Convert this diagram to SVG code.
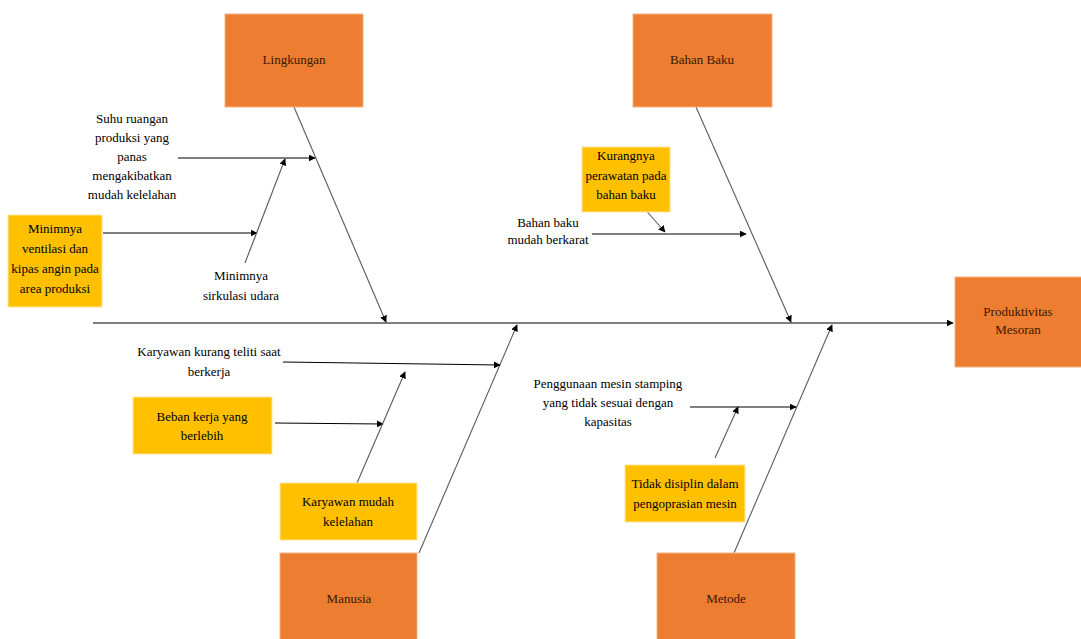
<svg xmlns="http://www.w3.org/2000/svg" width="1081" height="639" viewBox="0 0 1081 639">
<style>
.cat{fill:#ED7D31;stroke:#F4B183;stroke-width:1}
.cause{fill:#FFC000;stroke:#FFE699;stroke-width:1}
text{font-family:"Liberation Serif","DejaVu Serif",serif;font-size:13px;fill:#000;text-anchor:middle}
.cat-t{fill:#3a1a00}
.ln{stroke:#000;stroke-width:1.2;fill:none}
.bone{stroke:#555a66;stroke-width:1.1;fill:none}
</style>
<defs>
<marker id="ah" viewBox="0 0 10 10" refX="9" refY="5" markerWidth="7" markerHeight="7" markerUnits="userSpaceOnUse" orient="auto">
<path d="M0,0 L10,5 L0,10 z" fill="#000"/>
</marker>
</defs>
<rect width="1081" height="639" fill="#fff"/>

<g id="connectors">
<line class="ln" x1="93" y1="323" x2="953" y2="323" stroke-width="1.8" marker-end="url(#ah)"/>
<line class="bone" x1="294" y1="107" x2="386" y2="322" marker-end="url(#ah)"/>
<line class="bone" x1="696" y1="107" x2="791" y2="322" marker-end="url(#ah)"/>
<line class="bone" x1="419" y1="553" x2="517" y2="325" marker-end="url(#ah)"/>
<line class="bone" x1="734" y1="553" x2="832" y2="325" marker-end="url(#ah)"/>
<line class="ln" x1="178" y1="158" x2="315" y2="158" marker-end="url(#ah)"/>
<line class="ln" x1="103" y1="233" x2="257" y2="233" marker-end="url(#ah)"/>
<line class="bone" x1="245" y1="263" x2="285" y2="159" marker-end="url(#ah)"/>
<line class="bone" x1="643" y1="207" x2="665" y2="232" marker-end="url(#ah)"/>
<line class="ln" x1="592" y1="234" x2="746" y2="234" marker-end="url(#ah)"/>
<line class="ln" x1="283" y1="362" x2="500" y2="365" marker-end="url(#ah)"/>
<line class="ln" x1="275" y1="423" x2="383" y2="424" marker-end="url(#ah)"/>
<line class="bone" x1="357" y1="483" x2="405" y2="372" marker-end="url(#ah)"/>
<line class="ln" x1="690" y1="407" x2="796" y2="407" marker-end="url(#ah)"/>
<line class="bone" x1="715" y1="458" x2="738" y2="407" marker-end="url(#ah)"/>
</g>

<g id="lingkungan"><rect class="cat" x="225" y="14" width="138" height="93"/><text class="cat-t" x="294" y="64">Lingkungan</text></g>
<g id="bahan-baku"><rect class="cat" x="633" y="14" width="139" height="93"/><text class="cat-t" x="702" y="64">Bahan Baku</text></g>
<g id="manusia"><rect class="cat" x="280" y="553" width="137" height="90"/><text class="cat-t" x="349" y="603">Manusia</text></g>
<g id="metode"><rect class="cat" x="657" y="553" width="138" height="90"/><text class="cat-t" x="726" y="603">Metode</text></g>
<g id="produktivitas"><rect class="cat" x="955" y="277" width="130" height="90"/><text class="cat-t" x="1018" y="316">Produktivitas</text><text class="cat-t" x="1018" y="334">Mesoran</text></g>

<g id="suhu"><text x="132" y="123">Suhu ruangan</text><text x="132" y="142">produksi yang</text><text x="132" y="161">panas</text><text x="132" y="180">mengakibatkan</text><text x="132" y="199">mudah kelelahan</text></g>
<g id="ventilasi"><rect class="cause" x="8" y="215" width="94" height="92"/><text x="55" y="233">Minimnya</text><text x="55" y="253">ventilasi dan</text><text x="55" y="273">kipas angin pada</text><text x="55" y="293">area produksi</text></g>
<g id="sirkulasi"><text x="241" y="280">Minimnya</text><text x="241" y="300">sirkulasi udara</text></g>

<g id="perawatan"><rect class="cause" x="582" y="147" width="88" height="65"/><text x="626" y="160">Kurangnya</text><text x="626" y="180">perawatan pada</text><text x="626" y="199">bahan baku</text></g>
<g id="berkarat"><text x="548" y="227">Bahan baku</text><text x="548" y="244">mudah berkarat</text></g>

<g id="teliti"><text x="209" y="356">Karyawan kurang teliti saat</text><text x="209" y="376">berkerja</text></g>
<g id="beban"><rect class="cause" x="133" y="397" width="139" height="57"/><text x="202" y="421">Beban kerja yang</text><text x="202" y="440">berlebih</text></g>
<g id="mudah-lelah"><rect class="cause" x="280" y="483" width="137" height="57"/><text x="348" y="506">Karyawan mudah</text><text x="348" y="526">kelelahan</text></g>

<g id="stamping"><text x="608" y="388">Penggunaan mesin stamping</text><text x="608" y="407">yang tidak sesuai dengan</text><text x="608" y="426">kapasitas</text></g>
<g id="disiplin"><rect class="cause" x="625" y="465" width="120" height="57"/><text x="685" y="488">Tidak disiplin dalam</text><text x="685" y="508">pengoprasian mesin</text></g>
</svg>
